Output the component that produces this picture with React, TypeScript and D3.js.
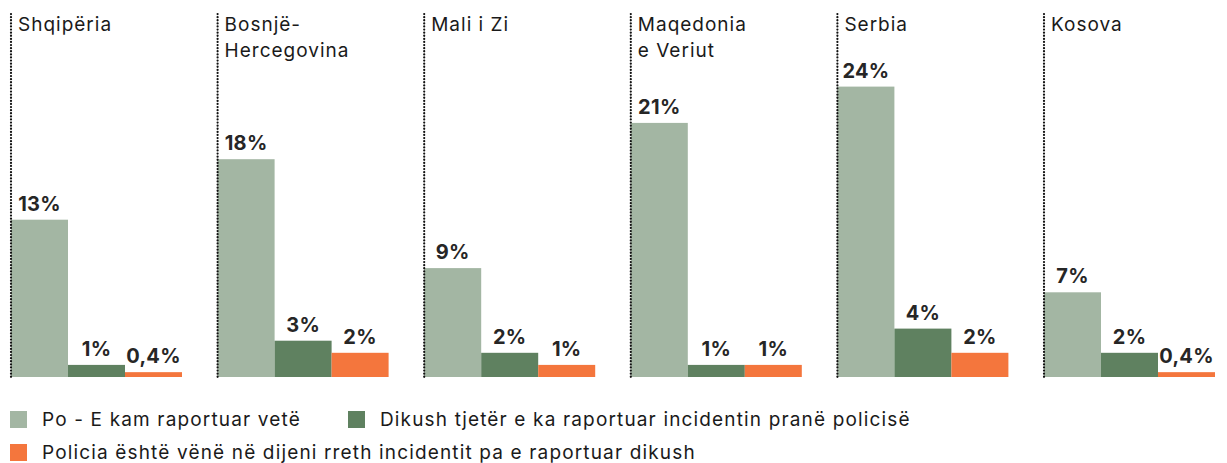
import React, {useEffect, useRef} from 'react'
import * as d3 from 'd3'

// countries (title lines), series and values in %
const countries = ['Shqipëria', 'Bosnjë-Hercegovina', 'Mali i Zi', 'Maqedonia e Veriut', 'Serbia', 'Kosova']
const titleLines: string[][] = [
    ['Shqipëria'],
    ['Bosnjë-', 'Hercegovina'],
    ['Mali i Zi'],
    ['Maqedonia', 'e Veriut'],
    ['Serbia'],
    ['Kosova'],
]
const series = [
    'Po - E kam raportuar vetë',
    'Dikush tjetër e ka raportuar incidentin pranë policisë',
    'Policia është vënë në dijeni rreth incidentit pa e raportuar dikush',
]
const selfReported = [13, 18, 9, 21, 24, 7]
const otherReported = [1, 3, 2, 1, 4, 2]
const policeAware = [0.4, 2, 1, 1, 2, 0.4]
const valueLabels = [
    ['13%', '1%', '0,4%'],
    ['18%', '3%', '2%'],
    ['9%', '2%', '1%'],
    ['21%', '1%', '1%'],
    ['24%', '4%', '2%'],
    ['7%', '2%', '0,4%'],
]
const colors = ['#a3b6a3', '#5f8160', '#f4763d']

const W = 1227
const H = 463
const FONT = 'Inter, "DejaVu Sans", sans-serif'

export default function App() {
    const svgRef = useRef<SVGSVGElement>(null)

    useEffect(() => {
        const svg = d3.select(svgRef.current)
        svg.selectAll('*').remove()

        const baseline = 377
        const x0 = d3.scaleBand<string>().domain(countries).range([11, 11 + 6 * 206.6])
        const x1 = d3.scaleBand<string>().domain(series).range([0, 171])
        const y = d3.scaleLinear().domain([0, 30]).range([baseline, 14])

        const data = countries.map((c, i) => ({
            country: c,
            lines: titleLines[i],
            values: [selfReported[i], otherReported[i], policeAware[i]],
            labels: valueLabels[i],
        }))

        const panel = svg
            .selectAll('g.panel')
            .data(data)
            .join('g')
            .attr('class', 'panel')
            .attr('transform', (d) => `translate(${x0(d.country)},0)`)

        panel
            .selectAll('rect')
            .data((d) => d.values.map((v, j) => ({v, s: series[j], j})))
            .join('rect')
            .attr('x', (d) => x1(d.s)!)
            .attr('width', x1.bandwidth())
            .attr('y', (d) => y(d.v))
            .attr('height', (d) => baseline - y(d.v))
            .attr('fill', (d) => colors[d.j])

        // dotted separator
        panel
            .append('line')
            .attr('x1', 0)
            .attr('x2', 0)
            .attr('y1', y(30))
            .attr('y2', baseline)
            .attr('stroke', '#111')
            .attr('stroke-width', 2.2)
            .attr('stroke-linecap', 'round')
            .attr('stroke-dasharray', '0.1 3')

        panel
            .selectAll('text.val')
            .data((d) => d.values.map((v, j) => ({v, s: series[j], label: d.labels[j]})))
            .join('text')
            .attr('class', 'val')
            .attr('x', (d) => x1(d.s)! + x1.bandwidth() / 2)
            .attr('y', (d) => y(d.v) - 9)
            .attr('text-anchor', 'middle')
            .attr('font-family', FONT)
            .attr('font-size', 20)
            .attr('font-weight', 700)
            .attr('letter-spacing', 0.3)
            .attr('fill', '#262626')
            .text((d) => d.label)

        panel
            .selectAll('text.title')
            .data((d) => d.lines)
            .join('text')
            .attr('class', 'title')
            .attr('x', 7)
            .attr('y', (_, k) => 31 + k * 26)
            .attr('font-family', FONT)
            .attr('font-size', 19)
            .attr('letter-spacing', 1)
            .attr('fill', '#1a1a1a')
            .text((d) => d)

        // legend
        const legendPos = [
            {x: 10, y: 411},
            {x: 348, y: 411},
            {x: 10, y: 444},
        ]
        const legend = svg
            .append('g')
            .selectAll('g')
            .data(series)
            .join('g')
            .attr('transform', (_, i) => `translate(${legendPos[i].x},${legendPos[i].y})`)
        legend
            .append('rect')
            .attr('width', 17)
            .attr('height', 17)
            .attr('fill', (_, i) => colors[i])
        legend
            .append('text')
            .attr('x', 32)
            .attr('y', 14.5)
            .attr('font-family', FONT)
            .attr('font-size', 19)
            .attr('letter-spacing', 1.15)
            .attr('fill', '#1a1a1a')
            .text((d) => d)
    }, [])

    return (
        <div style={{position: 'absolute', left: 0, top: 0}}>
            <svg ref={svgRef} width={W} height={H} style={{display: 'block'}} />
        </div>
    )
}
